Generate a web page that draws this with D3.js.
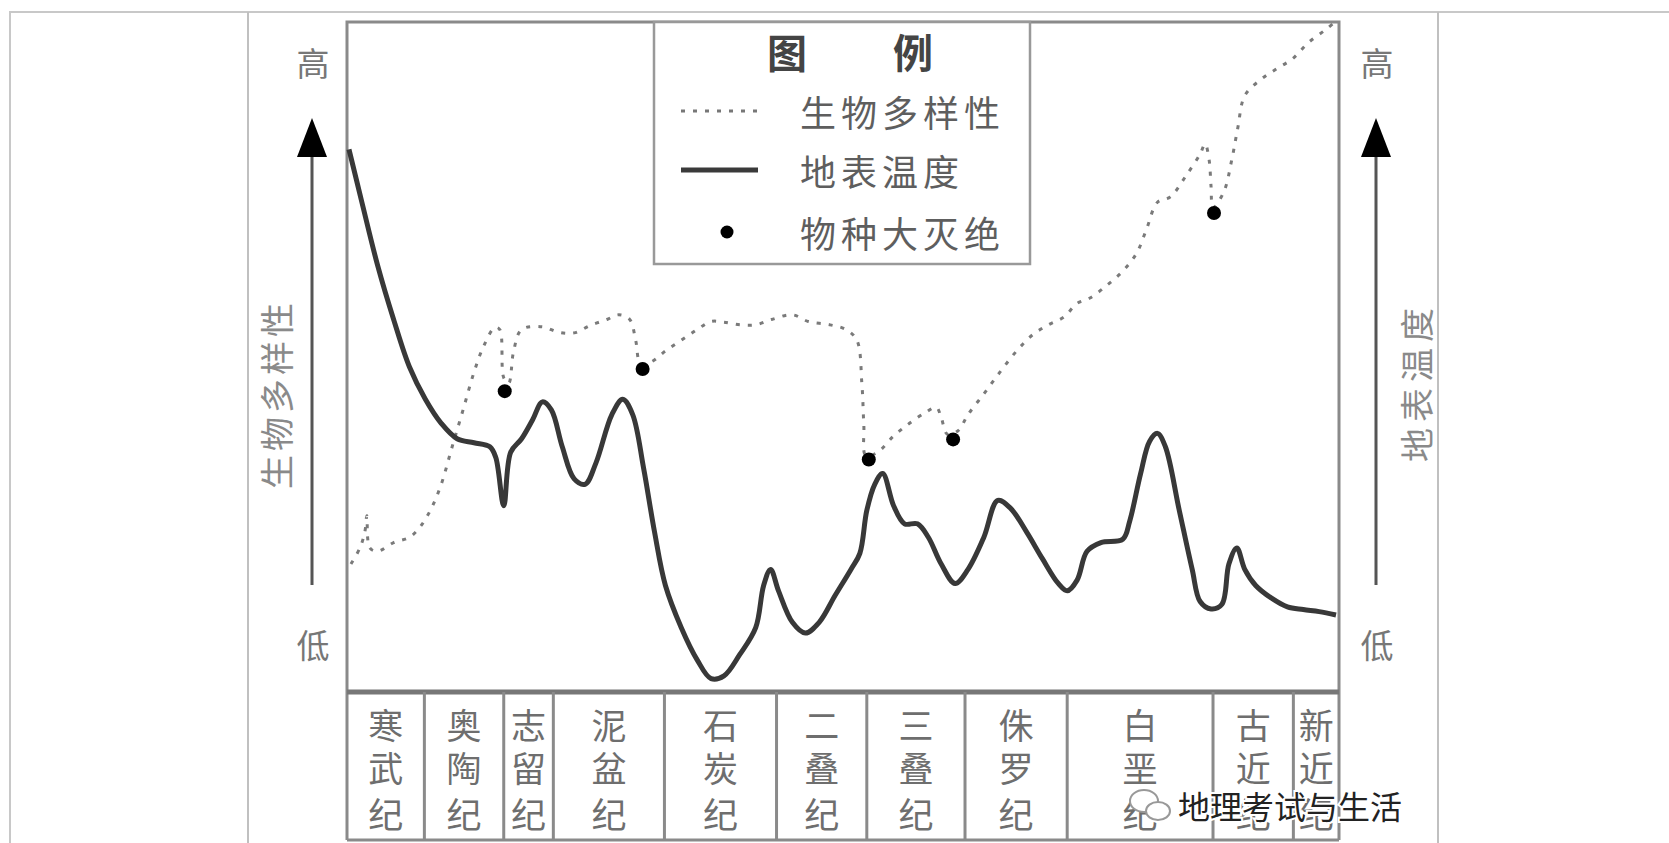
<!DOCTYPE html>
<html>
<head>
<meta charset="utf-8">
<script src="https://cdn.jsdelivr.net/npm/d3@7"></script>
<style>
  body { margin: 0; background: #fff; }
  text { font-family: "Noto Sans CJK SC", "Noto Sans", sans-serif; }
</style>
</head>
<body>
<div id="container"></div>
<script>
// periods along the bottom, boundaries in % of plot width
var periods = ['寒武纪', '奥陶纪', '志留纪', '泥盆纪', '石炭纪', '二叠纪', '三叠纪', '侏罗纪', '白垩纪', '古近纪', '新近纪'];
var bounds = [0, 7.8, 15.8, 20.8, 32.0, 43.3, 52.4, 62.3, 72.6, 87.3, 95.4, 100];

// 地表温度 (solid)
var tempX = [0.2, 1.5, 3.1, 4.7, 6.3, 7.9, 9.5, 11.1, 12.8, 14.4, 15.0, 15.8, 16.5, 17.6, 18.7, 19.7, 20.6, 21.7, 22.9, 24.0,
  25.1, 26.7, 27.8, 28.8, 29.9, 31.0, 32.1, 33.7, 35.3, 36.7, 38.0, 39.6, 41.2, 42.0, 42.7, 43.5, 44.9, 46.2, 47.6, 49.2,
  50.8, 51.7, 52.4, 53.2, 54.0, 55.1, 56.2, 57.5, 58.6, 59.9, 61.3, 62.6, 64.2, 65.6, 66.9, 68.5, 70.1, 71.7, 72.6, 73.6,
  74.6, 76.0, 78.2, 78.9, 80.0, 80.9, 81.7, 82.5, 83.9, 85.2, 86.0, 87.1, 88.2, 88.9, 89.7, 90.5, 91.6, 93.2, 94.8, 96.4,
  98.0, 99.7];
var tempY = [81.0, 73.1, 63.6, 55.6, 48.5, 43.7, 40.1, 37.8, 37.2, 36.6, 35.0, 27.8, 35.8, 37.8, 40.6, 43.3, 42.1, 36.6, 31.8, 31.0,
  34.2, 41.4, 43.7, 41.4, 33.4, 23.9, 15.9, 9.6, 4.8, 2.0, 2.4, 5.6, 9.6, 15.9, 18.3, 15.1, 10.4, 8.8, 10.4, 14.4,
  18.3, 20.7, 27.1, 31.0, 32.6, 27.8, 25.1, 25.1, 23.1, 19.1, 16.2, 18.3, 23.1, 28.6, 27.4, 23.9, 19.9, 16.2, 15.1, 16.7,
  21.0, 22.3, 22.8, 25.5, 32.6, 37.4, 38.6, 36.6, 27.1, 18.3, 13.5, 12.4, 13.1, 19.1, 21.5, 18.3, 15.9, 14.0, 12.7, 12.3,
  12.0, 11.5];

// 生物多样性 (dashed)
var bioX = [0.4, 1.3, 1.8, 2.0, 2.3, 3.1, 4.7, 6.3, 7.4, 8.5, 9.5, 10.6, 11.7, 12.8, 13.8, 14.9, 15.4, 15.8, 16.3, 16.8,
  17.6, 19.7, 21.3, 22.9, 24.5, 26.2, 27.4, 28.5, 29.1, 29.6, 30.7, 32.1, 33.7, 35.3, 36.7, 38.0, 39.6, 41.2, 42.8, 44.9,
  46.5, 48.7, 50.3, 51.4, 51.9, 52.1, 52.3, 53.5, 55.1, 56.7, 58.3, 59.4, 59.9, 60.5, 61.6, 62.6, 64.2, 65.8, 67.5, 69.1,
  70.7, 72.3, 73.6, 74.9, 76.6, 78.2, 79.6, 80.6, 81.7, 83.0, 84.6, 86.0, 86.5, 86.9, 87.1, 87.3, 88.4, 89.2, 89.8, 90.5,
  92.1, 93.7, 95.3, 96.9, 98.6, 99.6];
var bioY = [19.1, 21.5, 23.9, 26.3, 21.5, 21.0, 22.3, 23.1, 24.7, 27.4, 31.0, 36.6, 42.1, 47.7, 51.7, 54.4, 54.1, 46.9, 46.1, 50.9,
  54.1, 54.5, 53.7, 53.6, 54.7, 55.6, 56.3, 55.6, 52.5, 49.0, 49.3, 50.9, 52.5, 54.1, 55.3, 55.2, 54.8, 54.8, 55.6, 56.3,
  55.3, 54.8, 54.1, 52.5, 46.1, 39.8, 35.3, 35.8, 38.2, 40.1, 41.7, 42.5, 41.0, 38.5, 39.0, 41.4, 44.5, 47.7, 50.9, 53.3,
  54.8, 56.0, 58.0, 58.8, 60.7, 62.8, 65.5, 69.1, 73.1, 73.9, 77.1, 80.3, 81.8, 79.5, 75.5, 72.3, 74.7, 79.5, 84.2, 89.0,
  91.4, 93.0, 94.5, 96.9, 98.8, 100];

// 物种大灭绝
var extX = [15.9, 29.8, 52.6, 61.1, 87.4];
var extY = [44.9, 48.2, 34.7, 37.7, 71.5];

var legendItems = ['生物多样性', '地表温度', '物种大灭绝'];

(function() {
  var W = 1669, H = 843;
  var pLeft = 347, pRight = 1339, pTop = 22, pBottom = 692, boxBottom = 840;

  var svg = d3.select('#container').append('svg')
    .attr('width', W)
    .attr('height', H);

  var x = d3.scaleLinear().domain([0, 100]).range([pLeft, pRight]);
  var y = d3.scaleLinear().domain([0, 100]).range([pBottom, pTop]);

  // page frame lines
  svg.append('path').attr('d', 'M10,843V12H1669').attr('fill', 'none').attr('stroke', '#c8c8c8').attr('stroke-width', 2);
  svg.append('line').attr('x1', 248).attr('x2', 248).attr('y1', 12).attr('y2', H).attr('stroke', '#c0c0c0').attr('stroke-width', 2);
  svg.append('line').attr('x1', 1438).attr('x2', 1438).attr('y1', 12).attr('y2', H).attr('stroke', '#c0c0c0').attr('stroke-width', 2);

  // plot frame
  svg.append('path')
    .attr('d', 'M' + pLeft + ',' + boxBottom + 'V' + pTop + 'H' + pRight + 'V' + boxBottom)
    .attr('fill', 'none').attr('stroke', '#8a8a8a').attr('stroke-width', 3);
  svg.append('line').attr('x1', pLeft).attr('x2', pRight).attr('y1', pBottom).attr('y2', pBottom)
    .attr('stroke', '#777').attr('stroke-width', 5);
  svg.append('line').attr('x1', pLeft).attr('x2', pRight).attr('y1', boxBottom).attr('y2', boxBottom)
    .attr('stroke', '#8a8a8a').attr('stroke-width', 3);

  // period boxes
  svg.selectAll('.divider')
    .data(bounds.slice(1, -1))
    .enter()
    .append('line')
    .attr('class', 'divider')
    .attr('x1', function(d) { return x(d); })
    .attr('x2', function(d) { return x(d); })
    .attr('y1', pBottom).attr('y2', boxBottom)
    .attr('stroke', '#8a8a8a').attr('stroke-width', 3);

  var rows = [723, 766, 812];
  periods.forEach(function(p, i) {
    var cx = (x(bounds[i]) + x(bounds[i + 1])) / 2;
    p.split('').forEach(function(ch, j) {
      svg.append('text')
        .attr('x', cx).attr('y', rows[j])
        .attr('text-anchor', 'middle').attr('dominant-baseline', 'central')
        .attr('fill', '#6e6e6e').style('font-size', '35px')
        .text(ch);
    });
  });

  // legend box
  svg.append('rect')
    .attr('x', 654).attr('y', pTop).attr('width', 376).attr('height', 242)
    .attr('fill', '#fff').attr('stroke', '#999').attr('stroke-width', 2.5);
  svg.append('text').attr('x', 787).attr('y', 51).attr('text-anchor', 'middle').attr('dominant-baseline', 'central')
    .attr('fill', '#444').style('font-size', '40px').style('font-weight', 'bold').text('图');
  svg.append('text').attr('x', 913).attr('y', 51).attr('text-anchor', 'middle').attr('dominant-baseline', 'central')
    .attr('fill', '#444').style('font-size', '40px').style('font-weight', 'bold').text('例');

  var legY = [111, 170, 232];
  svg.append('line').attr('x1', 681).attr('x2', 758).attr('y1', legY[0]).attr('y2', legY[0])
    .attr('stroke', '#777').attr('stroke-width', 3).attr('stroke-dasharray', '4,8');
  svg.append('line').attr('x1', 681).attr('x2', 758).attr('y1', legY[1]).attr('y2', legY[1])
    .attr('stroke', '#3a3a3a').attr('stroke-width', 5);
  svg.append('circle').attr('cx', 727).attr('cy', legY[2]).attr('r', 6.5).attr('fill', '#000');

  svg.selectAll('.legtext')
    .data(legendItems)
    .enter()
    .append('text')
    .attr('class', 'legtext')
    .attr('x', 800)
    .attr('y', function(d, i) { return legY[i]; })
    .attr('dominant-baseline', 'central')
    .attr('fill', '#5e5e5e')
    .style('font-size', '36px')
    .style('letter-spacing', '5px')
    .text(function(d) { return d; });

  // curves
  var line = d3.line()
    .x(function(d) { return x(d[0]); })
    .y(function(d) { return y(d[1]); })
    .curve(d3.curveCatmullRom.alpha(0.5));

  svg.append('path')
    .datum(bioX.map(function(v, i) { return [v, bioY[i]]; }))
    .attr('d', line)
    .attr('fill', 'none').attr('stroke', '#7a7a7a').attr('stroke-width', 3)
    .attr('stroke-dasharray', '4,8');

  svg.append('path')
    .datum(tempX.map(function(v, i) { return [v, tempY[i]]; }))
    .attr('d', line)
    .attr('fill', 'none').attr('stroke', '#383838').attr('stroke-width', 5)
    .attr('stroke-linejoin', 'round');

  svg.selectAll('.ext')
    .data(extX)
    .enter()
    .append('circle')
    .attr('class', 'ext')
    .attr('cx', function(d) { return x(d); })
    .attr('cy', function(d, i) { return y(extY[i]); })
    .attr('r', 7)
    .attr('fill', '#000');

  // side axes: arrows and labels
  [312, 1376].forEach(function(ax) {
    svg.append('line').attr('x1', ax).attr('x2', ax).attr('y1', 150).attr('y2', 585)
      .attr('stroke', '#555').attr('stroke-width', 3);
    svg.append('path')
      .attr('d', 'M' + ax + ',118L' + (ax + 15) + ',157L' + (ax - 15) + ',157Z')
      .attr('fill', '#000');
    svg.append('text').attr('x', ax + 1).attr('y', 62).attr('text-anchor', 'middle').attr('dominant-baseline', 'central')
      .attr('fill', '#777').style('font-size', '33px').text('高');
    svg.append('text').attr('x', ax + 1).attr('y', 644).attr('text-anchor', 'middle').attr('dominant-baseline', 'central')
      .attr('fill', '#777').style('font-size', '33px').text('低');
  });

  svg.append('text')
    .attr('transform', 'translate(275,394) rotate(-90)')
    .attr('text-anchor', 'middle').attr('dominant-baseline', 'central')
    .attr('fill', '#8a8a8a').style('font-size', '34px').style('letter-spacing', '4px')
    .text('生物多样性');
  svg.append('text')
    .attr('transform', 'translate(1415,382) rotate(-90)')
    .attr('text-anchor', 'middle').attr('dominant-baseline', 'central')
    .attr('fill', '#8a8a8a').style('font-size', '34px').style('letter-spacing', '6px')
    .text('地表温度');

  // watermark (sits over the period boxes, as in the source)
  var wm = svg.append('g').attr('transform', 'translate(1150,805)');
  wm.append('ellipse').attr('cx', -6).attr('cy', -4).attr('rx', 14).attr('ry', 11)
    .attr('fill', '#fff').attr('stroke', '#999').attr('stroke-width', 2);
  wm.append('ellipse').attr('cx', 8).attr('cy', 6).attr('rx', 12).attr('ry', 9)
    .attr('fill', '#fff').attr('stroke', '#999').attr('stroke-width', 2);
  wm.append('text')
    .attr('x', 28).attr('y', 0).attr('dominant-baseline', 'central')
    .attr('fill', '#222').attr('stroke', '#fff').attr('stroke-width', 4)
    .style('paint-order', 'stroke').style('font-size', '32px')
    .text('地理考试与生活');
})();
</script>
</body>
</html>
